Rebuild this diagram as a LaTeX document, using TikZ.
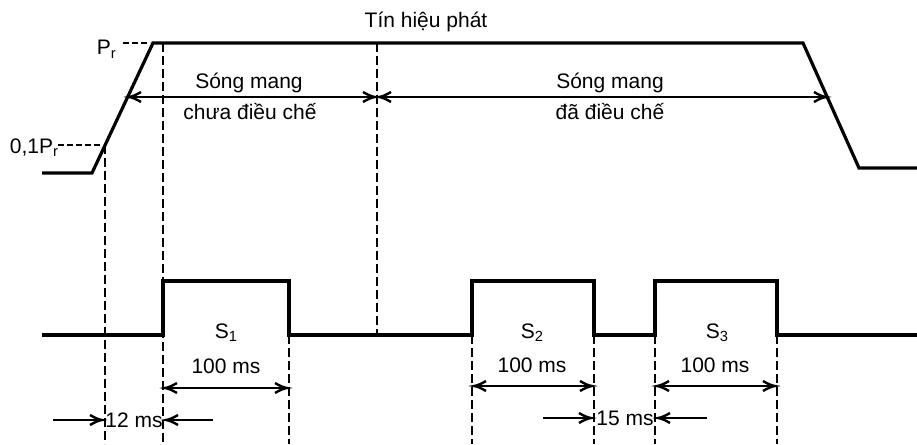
\documentclass[tikz,border=0pt]{standalone}
\usepackage{fontspec}
\setmainfont{Liberation Sans}
\usepackage{tikz}

\begin{document}
\begin{tikzpicture}[x=1pt,y=1pt,yscale=-1,xscale=1]
\useasboundingbox (0,0) rectangle (917,444);
\tikzset{sig/.style={line width=3.2},
  guide/.style={line width=2.6,dash pattern=on 9 off 4},
  lvl/.style={line width=1.8,dash pattern=on 6 off 3},
  dim/.style={line width=2.4},
  lbl/.style={inner sep=0.75pt,font=\fontsize{21}{25}\selectfont}}
%Signal
\draw [sig] (42,173) -- (92,173) -- (153,43) -- (803,43) -- (859,168) -- (917,168) ;
\draw [sig] (42,335) -- (163,335) -- (163,281) -- (289,281) -- (289,335) -- (472,335) -- (472,281) -- (594,281) -- (594,335) -- (655,335) -- (655,281) -- (777,281) -- (777,335) -- (917,335) ;
%Levels
\draw [lvl] (123,43) -- (150,43) ;
\draw [lvl] (58,145) -- (101,145) ;
%Guides
\draw [guide] (105,145) -- (105,444) ;
\draw [guide] (163,43) -- (163,444) ;
\draw [guide] (377,43) -- (377,335) ;
\draw [guide] (289,335) -- (289,444) ;
\draw [guide] (472,335) -- (472,444) ;
\draw [guide] (594,335) -- (594,444) ;
\draw [guide] (655,335) -- (655,444) ;
\draw [guide] (777,335) -- (777,444) ;
%Spans
\draw [dim] (129,97) -- (375,97) ;
\draw [shift={(129,97)},rotate=0][line width=2.4](12,-5) .. controls (7,-2) and (3,-0.4) .. (0,0) .. controls (3,0.4) and (7,2) .. (12,5);
\draw [shift={(375,97)},rotate=180][line width=2.4](12,-5) .. controls (7,-2) and (3,-0.4) .. (0,0) .. controls (3,0.4) and (7,2) .. (12,5);
\draw [dim] (379,97) -- (826,97) ;
\draw [shift={(379,97)},rotate=0][line width=2.4](12,-5) .. controls (7,-2) and (3,-0.4) .. (0,0) .. controls (3,0.4) and (7,2) .. (12,5);
\draw [shift={(826,97)},rotate=180][line width=2.4](12,-5) .. controls (7,-2) and (3,-0.4) .. (0,0) .. controls (3,0.4) and (7,2) .. (12,5);
\draw [dim] (165,388) -- (287,388) ;
\draw [shift={(165,388)},rotate=0][line width=2.4](12,-5) .. controls (7,-2) and (3,-0.4) .. (0,0) .. controls (3,0.4) and (7,2) .. (12,5);
\draw [shift={(287,388)},rotate=180][line width=2.4](12,-5) .. controls (7,-2) and (3,-0.4) .. (0,0) .. controls (3,0.4) and (7,2) .. (12,5);
\draw [dim] (474,386) -- (592,386) ;
\draw [shift={(474,386)},rotate=0][line width=2.4](12,-5) .. controls (7,-2) and (3,-0.4) .. (0,0) .. controls (3,0.4) and (7,2) .. (12,5);
\draw [shift={(592,386)},rotate=180][line width=2.4](12,-5) .. controls (7,-2) and (3,-0.4) .. (0,0) .. controls (3,0.4) and (7,2) .. (12,5);
\draw [dim] (657,386) -- (775,386) ;
\draw [shift={(657,386)},rotate=0][line width=2.4](12,-5) .. controls (7,-2) and (3,-0.4) .. (0,0) .. controls (3,0.4) and (7,2) .. (12,5);
\draw [shift={(775,386)},rotate=180][line width=2.4](12,-5) .. controls (7,-2) and (3,-0.4) .. (0,0) .. controls (3,0.4) and (7,2) .. (12,5);
%Gaps
\draw [dim] (53,420) -- (102,420) ;
\draw [shift={(102,420)},rotate=180][line width=2.4](12,-5) .. controls (7,-2) and (3,-0.4) .. (0,0) .. controls (3,0.4) and (7,2) .. (12,5);
\draw [dim] (213,420) -- (166,420) ;
\draw [shift={(166,420)},rotate=0][line width=2.4](12,-5) .. controls (7,-2) and (3,-0.4) .. (0,0) .. controls (3,0.4) and (7,2) .. (12,5);
\draw [dim] (543,418) -- (591,418) ;
\draw [shift={(591,418)},rotate=180][line width=2.4](12,-5) .. controls (7,-2) and (3,-0.4) .. (0,0) .. controls (3,0.4) and (7,2) .. (12,5);
\draw [dim] (707,418) -- (658,418) ;
\draw [shift={(658,418)},rotate=0][line width=2.4](12,-5) .. controls (7,-2) and (3,-0.4) .. (0,0) .. controls (3,0.4) and (7,2) .. (12,5);
%Text
\draw (426,22) node [lbl][align=left] {Tín hiệu phát};
\draw (249,83) node [lbl][align=left] {Sóng mang};
\draw (250,112) node [lbl][align=left] {chưa điều chế};
\draw (610,83) node [lbl][align=left] {Sóng mang};
\draw (610,112) node [lbl][align=left] {đã điều chế};
\draw (96,55) node [lbl][anchor=base west] {P\textsubscript{r}};
\draw (9,153) node [lbl][anchor=base west] {0,1P\textsubscript{r}};
\draw (214,338) node [lbl][anchor=base west] {S\textsubscript{1}};
\draw (520,338) node [lbl][anchor=base west] {S\textsubscript{2}};
\draw (705,338) node [lbl][anchor=base west] {S\textsubscript{3}};
\draw (226,366) node [lbl][align=left] {100 ms};
\draw (532,365) node [lbl][align=left] {100 ms};
\draw (715,365) node [lbl][align=left] {100 ms};
\draw (134,420) node [lbl][align=left] {12 ms};
\draw (625,418) node [lbl][align=left] {15 ms};
\end{tikzpicture}
\end{document}
